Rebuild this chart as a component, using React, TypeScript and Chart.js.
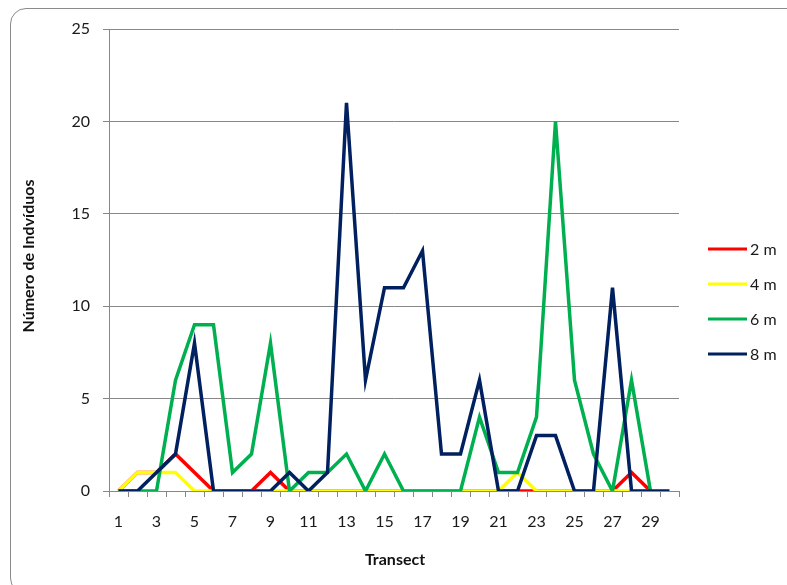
import React, { useEffect, useRef } from "react";
import { Chart, registerables } from "chart.js";

Chart.register(...registerables);

const categories = Array.from({ length: 30 }, (_, i) => String(i + 1));
const seriesLabels = ["2 m", "4 m", "6 m", "8 m"];
const seriesColors = ["#FF0000", "#FFFF00", "#00B050", "#002060"];
const values2m = [0, 1, 1, 2, 1, 0, 0, 0, 1, 0, 0, 0, 0, 0, 0, 0, 0, 0, 0, 0, 0, 0, 0, 0, 0, 0, 0, 1, 0];
const values4m = [0, 1, 1, 1, 0, 0, 0, 0, 0, 0, 0, 0, 0, 0, 0, 0, 0, 0, 0, 0, 0, 1, 0, 0, 0, 0, 0, 0, 0];
const values6m = [0, 0, 0, 6, 9, 9, 1, 2, 8, 0, 1, 1, 2, 0, 2, 0, 0, 0, 0, 4, 1, 1, 4, 20, 6, 2, 0, 6, 0];
const values8m = [0, 0, 1, 2, 8, 0, 0, 0, 0, 1, 0, 1, 21, 6, 11, 11, 13, 2, 2, 6, 0, 0, 3, 3, 0, 0, 11, 0, 0, 0];
const yTicks = [0, 5, 10, 15, 20, 25];
const xTitle = "Transect";
const yTitle = "Número de Indvíduos";

const FONT = "Lato, 'Open Sans', sans-serif";

export default function App() {
  const ref = useRef<HTMLCanvasElement | null>(null);

  useEffect(() => {
    if (!ref.current) return;
    const allSeries = [values2m, values4m, values6m, values8m];
    const overlay = {
      id: "overlay",
      afterDraw(chart: any) {
        const ctx = chart.ctx;
        ctx.save();
        // legend
        chart.data.datasets.forEach((ds: any, i: number) => {
          const y = 249 + i * 35;
          ctx.strokeStyle = ds.borderColor;
          ctx.lineWidth = 3;
          ctx.beginPath();
          ctx.moveTo(708, y);
          ctx.lineTo(747, y);
          ctx.stroke();
          ctx.fillStyle = "#1a1a1a";
          ctx.font = `16px ${FONT}`;
          ctx.textAlign = "left";
          ctx.textBaseline = "middle";
          ctx.fillText(ds.label, 750, y + 1);
        });
        // axis titles
        ctx.fillStyle = "#111";
        ctx.font = `bold 16px ${FONT}`;
        ctx.textAlign = "center";
        ctx.textBaseline = "middle";
        ctx.fillText(xTitle, 395, 560);
        ctx.translate(29, 256);
        ctx.rotate(-Math.PI / 2);
        ctx.fillText(yTitle, 0, 0);
        ctx.restore();
      },
    };

    const chart = new Chart(ref.current, {
      type: "line",
      data: {
        labels: categories,
        datasets: allSeries.map((vals, i) => ({
          label: seriesLabels[i],
          data: vals,
          borderColor: seriesColors[i],
          backgroundColor: seriesColors[i],
          borderWidth: 3.5,
          pointRadius: 0,
          tension: 0,
          fill: false,
          order: 3 - i,
        })),
      },
      options: {
        responsive: false,
        animation: false,
        layout: { padding: { left: 0, right: 108, top: 29, bottom: 0 } },
        plugins: { legend: { display: false }, tooltip: { enabled: false } },
        scales: {
          x: {
            type: "category",
            offset: true,
            grid: {
              offset: true,
              drawOnChartArea: false,
              drawTicks: true,
              tickLength: 6,
              color: "#888",
            },
            border: { color: "#888", width: 1 },
            ticks: {
              autoSkip: false,
              maxRotation: 0,
              padding: 15,
              color: "#1a1a1a",
              font: { family: FONT, size: 16 },
              callback: (_v: any, idx: number) => (idx % 2 === 0 ? categories[idx] : ""),
            },
            afterFit: (s: any) => {
              s.height = 94;
            },
          },
          y: {
            min: 0,
            max: 25,
            afterBuildTicks: (s: any) => {
              s.ticks = yTicks.map((v) => ({ value: v }));
            },
            grid: { color: "#888", tickLength: 6, drawTicks: true },
            border: { color: "#888", width: 1 },
            ticks: {
              padding: 13,
              color: "#1a1a1a",
              font: { family: FONT, size: 16 },
            },
            afterFit: (s: any) => {
              s.width = 109;
            },
          },
        },
      },
      plugins: [overlay],
    });
    return () => chart.destroy();
  }, []);

  return (
    <div style={{ position: "absolute", left: 0, top: 0, width: 787, height: 585, overflow: "hidden", background: "#fff" }}>
      <div
        style={{
          position: "absolute",
          left: 10,
          top: 8,
          width: 800,
          height: 586,
          border: "1px solid #8a8a8a",
          borderRadius: 16,
          boxSizing: "border-box",
        }}
      />
      <canvas ref={ref} width={787} height={585} style={{ position: "absolute", left: 0, top: 0, width: 787, height: 585 }} />
    </div>
  );
}
